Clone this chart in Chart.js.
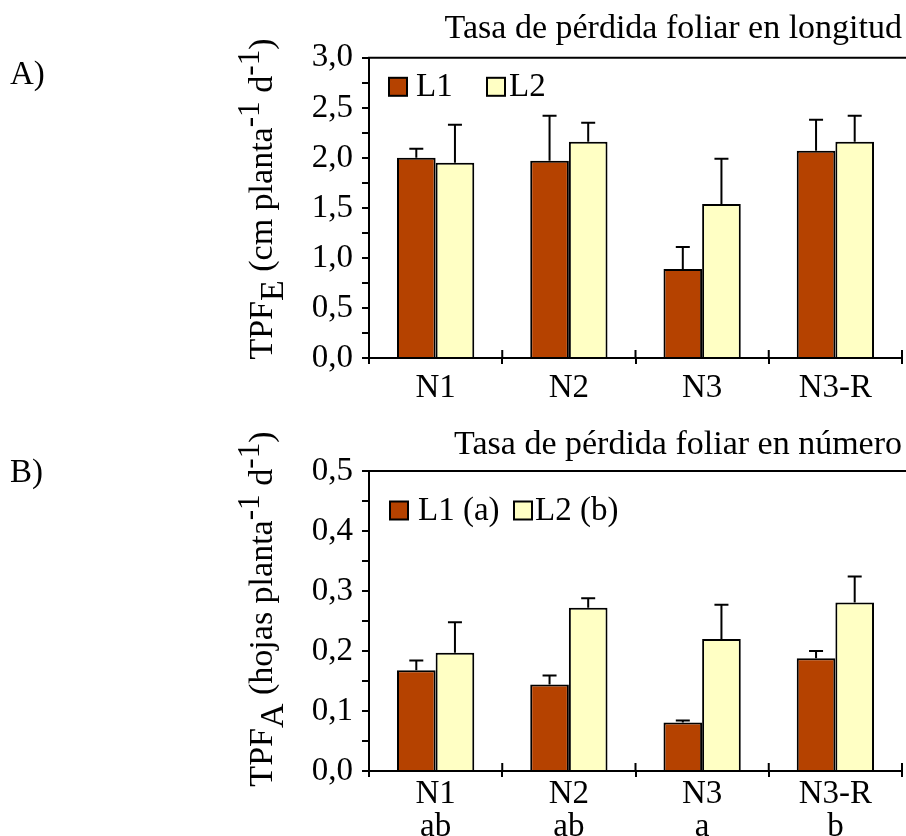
<!DOCTYPE html>
<html>
<head>
<meta charset="utf-8">
<script src="https://cdn.jsdelivr.net/npm/chart.js@4.4.1/dist/chart.umd.min.js"></script>
<style>
  html, body { margin: 0; padding: 0; background: #fff; }
  body { width: 906px; height: 836px; position: relative; overflow: hidden;
         font-family: "Liberation Serif", "Times New Roman", serif; color: #000; }
  .panel { position: absolute; left: 0; width: 906px; height: 418px; }
  #panelA { top: 0; }
  #panelB { top: 418px; }
  .tag { position: absolute; left: 10px; font-size: 33px; line-height: 1; }
  .ytitle { position: absolute; white-space: nowrap; font-size: 34px; line-height: 1;
            transform: translate(-50%, -50%) rotate(-90deg); }
  .ytitle sub { font-size: 100%; vertical-align: -0.32em; line-height: 0; }
  .ytitle sup { font-size: 92%; vertical-align: 0.42em; line-height: 0; }
</style>
</head>
<body>
<div class="panel" id="panelA"><canvas id="chartA" width="906" height="418"></canvas></div>
<div class="panel" id="panelB"><canvas id="chartB" width="906" height="418"></canvas></div>

<div class="tag" style="top:57px;">A)</div>
<div class="tag" style="top:455px;">B)</div>

<div class="ytitle" style="left:261px; top:199px;">TPF<sub>E</sub> (cm planta<sup>-1</sup> d<sup>-1</sup>)</div>
<div class="ytitle" style="left:261px; top:609px;">TPF<sub>A</sub> (hojas planta<sup>-1</sup> d<sup>-1</sup>)</div>

<script>
// Treatments and significance letters
const categories = ['N1', 'N2', 'N3', 'N3-R'];
const letters = ['ab', 'ab', 'a', 'b'];

// A) leaf-loss rate in length (cm planta-1 d-1): means and standard errors
const lengthL1 = [2.00, 1.97, 0.89, 2.07];
const lengthL1Err = [0.09, 0.45, 0.22, 0.31];
const lengthL2 = [1.95, 2.16, 1.54, 2.16];
const lengthL2Err = [0.38, 0.19, 0.45, 0.26];

// B) leaf-loss rate in number (hojas planta-1 d-1): means and standard errors
const countL1 = [0.168, 0.144, 0.081, 0.188];
const countL1Err = [0.016, 0.015, 0.003, 0.012];
const countL2 = [0.197, 0.272, 0.220, 0.281];
const countL2Err = [0.051, 0.016, 0.057, 0.043];

// Labelled y ticks (minor ticks in between are unlabelled)
const lengthTickLabels = ['0,0', '0,5', '1,0', '1,5', '2,0', '2,5', '3,0'];
const countTickLabels = ['0,0', '0,1', '0,2', '0,3', '0,4', '0,5'];

const L1_COLOR = '#b54200';
const L2_COLOR = '#ffffc4';
const FONT = '"Liberation Serif", "Times New Roman", serif';

Chart.defaults.font.family = FONT;
Chart.defaults.color = '#000';

// Upward error bars with a cap, taken from each dataset's "errors" array
const errorBars = {
  id: 'errorBars',
  afterDatasetsDraw(chart) {
    const { ctx } = chart;
    const y = chart.scales.y;
    ctx.save();
    ctx.strokeStyle = '#000';
    ctx.lineWidth = 2;
    chart.data.datasets.forEach((ds, di) => {
      chart.getDatasetMeta(di).data.forEach((bar, i) => {
        const top = y.getPixelForValue(ds.data[i] + ds.errors[i]);
        ctx.beginPath();
        ctx.moveTo(bar.x, bar.y);
        ctx.lineTo(bar.x, top);
        ctx.moveTo(bar.x - 7, top);
        ctx.lineTo(bar.x + 7, top);
        ctx.stroke();
      });
    });
    ctx.restore();
  }
};

// Top frame line and the upper half of the category separator ticks
const frame = {
  id: 'frame',
  afterDraw(chart) {
    const { ctx, chartArea: a } = chart;
    const x = chart.scales.x;
    ctx.save();
    ctx.strokeStyle = '#000';
    ctx.lineWidth = 2;
    ctx.beginPath();
    ctx.moveTo(a.left - 1, a.top);
    ctx.lineTo(a.right + 4, a.top);
    for (let i = 1; i <= x.ticks.length; i++) {
      const px = x.getPixelForValue(i - 0.5);
      ctx.moveTo(px, a.bottom);
      ctx.lineTo(px, a.bottom - 8);
    }
    ctx.stroke();
    ctx.restore();
  }
};

// Legend drawn inside the plot, one swatch + label per dataset
const insideLegend = {
  id: 'insideLegend',
  afterDraw(chart, args, o) {
    const { ctx, chartArea: a } = chart;
    ctx.save();
    ctx.font = o.size + 'px ' + FONT;
    ctx.textBaseline = 'alphabetic';
    ctx.textAlign = 'left';
    chart.data.datasets.forEach((ds, i) => {
      const bx = a.left + o.boxX[i];
      const by = a.top + o.y;
      ctx.fillStyle = ds.backgroundColor;
      ctx.fillRect(bx, by, o.box, o.box);
      ctx.lineWidth = 2;
      ctx.strokeStyle = '#000';
      ctx.strokeRect(bx, by, o.box, o.box);
      ctx.fillStyle = '#000';
      ctx.fillText(ds.label, a.left + o.textX[i], by + o.box);
    });
    ctx.restore();
  }
};

function makeChart(canvasId, p) {
  return new Chart(document.getElementById(canvasId), {
    type: 'bar',
    data: {
      labels: p.labels,
      datasets: [
        { label: p.names[0], data: p.l1, errors: p.l1Err, backgroundColor: L1_COLOR,
          borderColor: '#000', borderWidth: 2 },
        { label: p.names[1], data: p.l2, errors: p.l2Err, backgroundColor: L2_COLOR,
          borderColor: '#000', borderWidth: 2 }
      ]
    },
    options: {
      responsive: false,
      animation: false,
      devicePixelRatio: 1,
      layout: { padding: { left: 0, right: 4, top: 0, bottom: 0 } },
      datasets: { bar: { categoryPercentage: 0.58, barPercentage: 1 } },
      plugins: {
        title: {
          display: true, text: p.title, align: 'end', color: '#000',
          font: { size: 34, weight: 'normal', lineHeight: 1.2 },
          padding: p.titlePad
        },
        legend: { display: false },
        insideLegend: p.legend,
        tooltip: { enabled: false }
      },
      scales: {
        x: {
          grid: { offset: true, drawOnChartArea: false, drawTicks: true, tickLength: 6,
                  lineWidth: 2, color: '#000' },
          border: { display: true, color: '#000', width: 2 },
          ticks: { color: '#000', font: { size: 33, lineHeight: 1.0 }, padding: p.xPad,
                   maxRotation: 0, autoSkip: false },
          afterFit: s => { s.height = p.xHeight; }
        },
        y: {
          min: 0, max: p.max,
          grid: { drawOnChartArea: false, drawTicks: true, tickLength: 7, lineWidth: 2,
                  color: '#000' },
          border: { display: true, color: '#000', width: 2 },
          ticks: {
            stepSize: p.step, autoSkip: false, color: '#000', padding: 9,
            font: { size: 33 },
            callback: (v, i) => (i % 2 === 0 ? p.tickLabels[i / 2] : '')
          },
          afterFit: s => { s.width = 369; }
        }
      }
    },
    plugins: [errorBars, frame, insideLegend]
  });
}

makeChart('chartA', {
  labels: categories,
  names: ['L1', 'L2'],
  l1: lengthL1, l1Err: lengthL1Err, l2: lengthL2, l2Err: lengthL2Err,
  title: 'Tasa de pérdida foliar en longitud',
  titlePad: { top: 9, bottom: 8 },
  legend: { size: 33, box: 18, y: 20, boxX: [20, 118], textX: [47, 140] },
  max: 3, step: 0.25, tickLabels: lengthTickLabels,
  xPad: 8, xHeight: 60
});

makeChart('chartB', {
  labels: categories.map((c, i) => [c, letters[i]]),
  names: ['L1 (a)', 'L2 (b)'],
  l1: countL1, l1Err: countL1Err, l2: countL2, l2Err: countL2Err,
  title: 'Tasa de pérdida foliar en número',
  titlePad: { top: 7, bottom: 5.2 },
  legend: { size: 33, box: 18, y: 30.5, boxX: [21, 145], textX: [49, 166] },
  max: 0.5, step: 0.05, tickLabels: countTickLabels,
  xPad: 1, xHeight: 65
});
</script>
</body>
</html>
